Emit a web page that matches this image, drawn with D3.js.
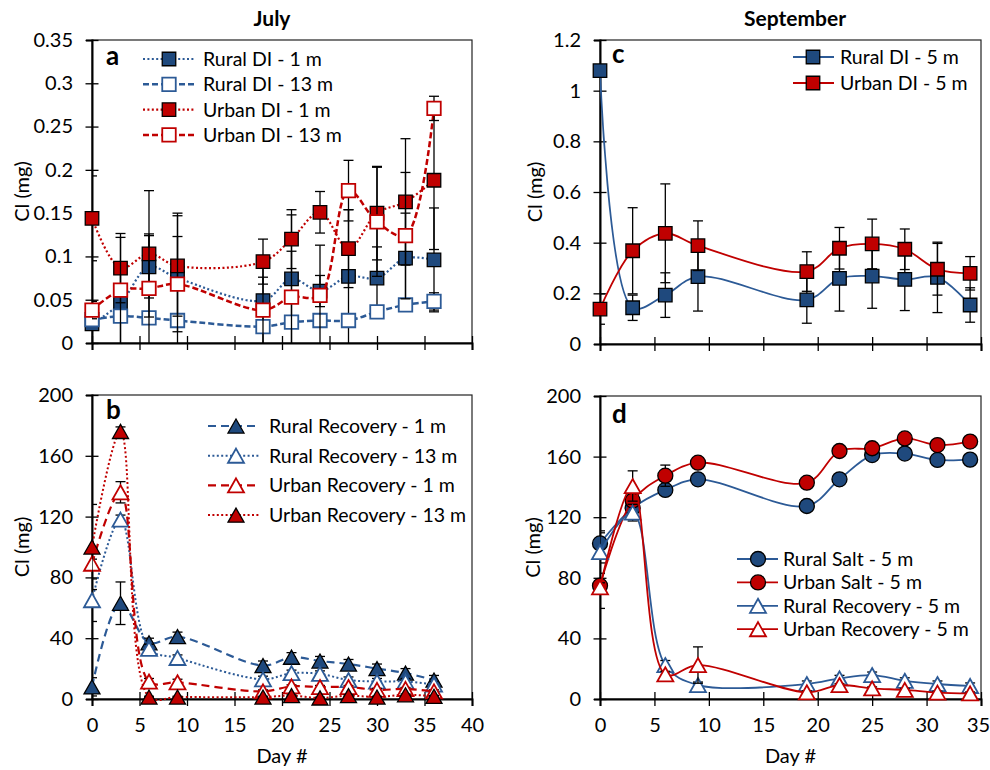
<!DOCTYPE html>
<html>
<head>
<meta charset="utf-8">
<script src="https://cdn.jsdelivr.net/npm/d3@7"></script>
<style>
  body { margin: 0; background: #fff; }
  svg { font-family: Lato, "Open Sans", sans-serif; }
</style>
</head>
<body>
<svg id="chart" width="990" height="770"></svg>
<script>
// ---------------- DATA ----------------
const daysJuly = [0, 3, 6, 9, 18, 21, 24, 27, 30, 33, 36];
const daysSept = [0, 3, 6, 9, 19, 22, 25, 28, 31, 34];

// Panel a (July, DI)
const ruralDI1m     = [0.022, 0.046, 0.088, 0.075, 0.049, 0.074, 0.060, 0.077, 0.075, 0.098, 0.096];
const ruralDI1mErr  = [0.005, 0.046, 0.036, 0.075, 0.049, 0.074, 0.018, 0.077, 0.036, 0.052, 0.060];
const ruralDI13m    = [0.027, 0.031, 0.029, 0.026, 0.019, 0.024, 0.026, 0.026, 0.036, 0.044, 0.048];
const ruralDI13mErr = [0.004, 0.004, 0.004, 0.004, 0.004, 0.004, 0.004, 0.004, 0.004, 0.004, 0.010];
const urbanDI1m     = [0.144, 0.0865, 0.103, 0.089, 0.094, 0.120, 0.151, 0.109, 0.150, 0.163, 0.188];
const urbanDI1mErr  = [0.049, 0.040, 0.073, 0.058, 0.026, 0.034, 0.024, 0.045, 0.054, 0.073, 0.080];
const urbanDI13m    = [0.038, 0.061, 0.063, 0.068, 0.038, 0.053, 0.055, 0.176, 0.140, 0.124, 0.271];
const urbanDI13mErr = [0.010, 0.061, 0.063, 0.055, 0.038, 0.053, 0.058, 0.035, 0.063, 0.073, 0.014];

// Panel b (July, Recovery)
const ruralRec1m     = [8, 63, 37, 41, 22, 27.5, 25, 23, 20, 17, 12.5];
const ruralRec1mErr  = [6, 14, 3, 3, 3, 3, 3, 3, 3, 3, 3];
const ruralRec13m    = [65, 118, 33, 27, 13, 17, 16.5, 12.5, 11.5, 11.5, 9.5];
const ruralRec13mErr = [14, 3, 3, 2, 2, 2, 2, 2, 2, 2, 2];
const urbanRec1m     = [89, 136, 11.5, 11, 5, 8.3, 7.9, 7.9, 6, 6.6, 5];
const urbanRec1mErr  = [3, 7, 2, 2, 1, 1, 1, 1, 1, 1, 1];
const urbanRec13m    = [100, 176, 1.3, 1.3, 1.3, 2.2, 0.7, 2.2, 1.3, 2.8, 1.8];
const urbanRec13mErr = [28, 3, 0.5, 0.5, 0.5, 0.5, 0.5, 0.5, 0.5, 0.5, 0.5];

// Panel c (September, DI)
const ruralDI5m    = [1.079, 0.143, 0.193, 0.266, 0.174, 0.259, 0.268, 0.255, 0.263, 0.154];
const ruralDI5mErr = [0.02, 0.05, 0.088, 0.136, 0.092, 0.129, 0.127, 0.123, 0.139, 0.068];
const urbanDI5m    = [0.138, 0.368, 0.437, 0.388, 0.286, 0.378, 0.395, 0.374, 0.295, 0.279];
const urbanDI5mErr = [0.06, 0.17, 0.195, 0.098, 0.078, 0.082, 0.098, 0.08, 0.102, 0.066];

// Panel d (September, Salt + Recovery)
const ruralSalt5m    = [102.7, 126, 138, 145, 127.4, 145, 161, 162, 157.8, 158];
const ruralSalt5mErr = [7, 4, 3, 2, 3, 3, 3, 3, 3, 3];
const urbanSalt5m    = [74.8, 131, 147.4, 156, 142.8, 163.7, 165.5, 172, 167.6, 169.9];
const urbanSalt5mErr = [15, 4, 7, 3, 3, 3, 3, 3, 3, 3];
const ruralRec5m     = [97, 123, 22.4, 9.2, 9.9, 13.6, 15.8, 12, 9.9, 8.6];
const ruralRec5mErr  = [14, 5.5, 3, 2, 2, 2, 2, 2, 2, 2];
const urbanRec5m     = [73.7, 140.6, 16.3, 22.4, 4.4, 9.2, 7, 6, 4.2, 3.7];
const urbanRec5mErr  = [3, 10, 2, 12, 1, 1, 1, 1, 1, 1];

// Tick labels
const xTicksJuly = [0, 5, 10, 15, 20, 25, 30, 35, 40];
const xTicksSept = [0, 5, 10, 15, 20, 25, 30, 35];
const yTicksA = ["0", "0.05", "0.1", "0.15", "0.2", "0.25", "0.3", "0.35"];
const yTicksB = ["0", "40", "80", "120", "160", "200"];
const yTicksC = ["0", "0.2", "0.4", "0.6", "0.8", "1", "1.2"];
const yTicksD = ["0", "40", "80", "120", "160", "200"];

// Legend labels
const legendA = ["Rural DI - 1 m", "Rural DI - 13 m", "Urban DI - 1 m", "Urban DI - 13 m"];
const legendB = ["Rural Recovery - 1 m", "Rural Recovery - 13 m", "Urban Recovery - 1 m", "Urban Recovery - 13 m"];
const legendC = ["Rural DI - 5 m", "Urban DI - 5 m"];
const legendD = ["Rural Salt - 5 m", "Urban Salt - 5 m", "Rural Recovery - 5 m", "Urban Recovery - 5 m"];

const titles = ["July", "September"];

// ---------------- STYLE ----------------
const NAVY_FILL = "#1F497D";
const NAVY_LINE = "#2C5A96";
const RED = "#C00000";
const FONT = 20;
const LEGEND_FONT = 19.5;

const svg = d3.select("#chart");

const triangle = {
  draw(ctx, size) {
    const s = Math.sqrt(size);
    const h = s * 0.88;
    ctx.moveTo(0, -h / 2);
    ctx.lineTo(s / 2, h / 2);
    ctx.lineTo(-s / 2, h / 2);
    ctx.closePath();
  }
};
const markerShapes = {
  square: { type: d3.symbolSquare, size: 13.5 * 13.5 },
  triangle: { type: triangle, size: 16 * 16 },
  circle: { type: d3.symbolCircle, size: Math.PI * 7.5 * 7.5 }
};
const dashes = {
  dotA: "2,2.4",
  dashA: "6,3",
  dashB: "8,5",
  dotB: "2,2.4",
  solid: null
};

function drawMarker(g, x, y, s) {
  const m = markerShapes[s.marker];
  g.append("path")
    .attr("d", d3.symbol().type(m.type).size(m.size)())
    .attr("transform", `translate(${x},${y})`)
    .attr("fill", s.filled ? s.fill : "#fff")
    .attr("stroke", s.filled ? "#000" : s.color)
    .attr("stroke-width", s.filled ? 1.3 : 1.8);
}

let clipId = 0;
function panel(o) {
  const x = d3.scaleLinear().domain(o.xDomain).range([o.x0, o.x1]);
  const y = d3.scaleLinear().domain(o.yDomain).range([o.yBot, o.yTop]);
  const g = svg.append("g");

  const cid = "clip" + (clipId++);
  svg.append("clipPath").attr("id", cid)
    .append("rect").attr("x", o.x0).attr("y", o.yTop - 2)
    .attr("width", o.x1 - o.x0).attr("height", o.yBot - o.yTop + 4);

  // frame
  g.append("rect").attr("x", o.x0).attr("y", o.yTop)
    .attr("width", o.x1 - o.x0).attr("height", o.yBot - o.yTop)
    .attr("fill", "none").attr("stroke", "#222").attr("stroke-width", 1.2);

  // y axis
  const yAxis = d3.axisLeft(y).tickValues(o.yTicks.map(Number))
    .tickFormat((d, i) => o.yTicks[i]).tickSize(6).tickPadding(13);
  const ya = g.append("g").attr("transform", `translate(${o.x0},0)`).call(yAxis);
  ya.select(".domain").attr("stroke", "#000").attr("stroke-width", 2);
  ya.selectAll(".tick line").attr("x1", -6.5).attr("x2", 6.5).attr("stroke", "#000").attr("stroke-width", 1.3);
  ya.selectAll(".tick text").attr("font-size", FONT).attr("font-family", "Lato").attr("fill", "#000");

  // x axis
  const xAxis = d3.axisBottom(x).tickValues(o.xTicks)
    .tickFormat(o.xLabels ? d3.format("d") : () => "").tickSize(7).tickPadding(12);
  const xa = g.append("g").attr("transform", `translate(0,${o.yBot})`).call(xAxis);
  xa.select(".domain").attr("stroke", "#000").attr("stroke-width", 2);
  xa.selectAll(".tick line").attr("y1", -7).attr("y2", 7).attr("stroke", "#000").attr("stroke-width", 1.3);
  xa.selectAll(".tick text").attr("font-size", FONT).attr("font-family", "Lato").attr("fill", "#000");
  if (o.lastLabelShift) {
    xa.selectAll(".tick text").filter((d, i, n) => i === n.length - 1).attr("dx", o.lastLabelShift);
  }

  const line = d3.line().x(d => x(d.day)).y(d => y(d.v)).curve(d3.curveCatmullRom.alpha(0.5));

  o.series.forEach(s => {
    const pts = s.days.map((d, i) => ({ day: d, v: s.values[i], e: s.err[i] }));
    g.append("path").datum(pts).attr("d", line)
      .attr("fill", "none").attr("stroke", s.color).attr("stroke-width", s.width)
      .attr("stroke-dasharray", dashes[s.dash]).attr("clip-path", `url(#${cid})`);
    const eb = g.append("g").attr("clip-path", `url(#${cid})`)
      .attr("stroke", "#000").attr("stroke-width", 1.3);
    pts.forEach(p => {
      const cx = x(p.day), yt = y(p.v + p.e), yb = y(Math.max(o.yDomain[0], p.v - p.e));
      eb.append("line").attr("x1", cx).attr("x2", cx).attr("y1", yt).attr("y2", yb);
      eb.append("line").attr("x1", cx - 5).attr("x2", cx + 5).attr("y1", yt).attr("y2", yt);
      if (p.v - p.e > o.yDomain[0])
        eb.append("line").attr("x1", cx - 5).attr("x2", cx + 5).attr("y1", yb).attr("y2", yb);
    });
    pts.forEach(p => drawMarker(g, x(p.day), y(p.v), s));
  });

  // legend
  const L = o.legend;
  o.series.forEach((s, i) => {
    const ly = L.y + i * L.dy;
    g.append("line").attr("x1", L.lx0).attr("x2", L.lx1).attr("y1", ly).attr("y2", ly)
      .attr("stroke", s.color).attr("stroke-width", s.width).attr("stroke-dasharray", dashes[s.dash]);
    drawMarker(g, L.mx, ly, s);
    g.append("text").attr("x", L.tx).attr("y", ly).attr("dy", "0.36em")
      .attr("font-size", LEGEND_FONT).attr("fill", "#000").text(o.legendLabels[i]);
  });

  // panel letter
  g.append("text").attr("x", o.letterX).attr("y", o.letterY)
    .attr("font-size", 26).attr("font-weight", "bold").attr("fill", "#000").text(o.letter);

  // y title
  g.append("text").attr("transform", `translate(${o.yTitleX},${(o.yTop + o.yBot) / 2}) rotate(-90)`)
    .attr("text-anchor", "middle").attr("dy", "0.35em")
    .attr("font-size", FONT).attr("fill", "#000").text("Cl (mg)");

  if (o.xLabels) {
    g.append("text").attr("x", (o.x0 + o.x1) / 2).attr("y", 763)
      .attr("text-anchor", "middle").attr("font-size", FONT).attr("fill", "#000").text("Day #");
  }
}

// ---------------- PANELS ----------------
panel({
  x0: 92, x1: 472, yTop: 40, yBot: 343, xDomain: [0, 40], yDomain: [0, 0.35],
  xTicks: xTicksJuly, yTicks: yTicksA, xLabels: false,
  letter: "a", letterX: 106, letterY: 65, yTitleX: 22,
  legendLabels: legendA,
  legend: { y: 59, dy: 25.3, lx0: 143, lx1: 195, mx: 169, tx: 203 },
  series: [
    { days: daysJuly, values: ruralDI1m, err: ruralDI1mErr, color: NAVY_LINE, fill: NAVY_FILL, filled: true, marker: "square", dash: "dotA", width: 2.2 },
    { days: daysJuly, values: ruralDI13m, err: ruralDI13mErr, color: NAVY_LINE, fill: NAVY_FILL, filled: false, marker: "square", dash: "dashA", width: 2.5 },
    { days: daysJuly, values: urbanDI1m, err: urbanDI1mErr, color: RED, fill: RED, filled: true, marker: "square", dash: "dotA", width: 2.2 },
    { days: daysJuly, values: urbanDI13m, err: urbanDI13mErr, color: RED, fill: RED, filled: false, marker: "square", dash: "dashA", width: 2.5 }
  ]
});

panel({
  x0: 92, x1: 472, yTop: 395, yBot: 699, xDomain: [0, 40], yDomain: [0, 200],
  xTicks: xTicksJuly, yTicks: yTicksB, xLabels: true,
  letter: "b", letterX: 106, letterY: 419, yTitleX: 22,
  legendLabels: legendB,
  legend: { y: 426, dy: 29.7, lx0: 208, lx1: 260, mx: 236, tx: 269 },
  series: [
    { days: daysJuly, values: ruralRec1m, err: ruralRec1mErr, color: NAVY_LINE, fill: NAVY_FILL, filled: true, marker: "triangle", dash: "dashB", width: 2.2 },
    { days: daysJuly, values: ruralRec13m, err: ruralRec13mErr, color: NAVY_LINE, fill: NAVY_FILL, filled: false, marker: "triangle", dash: "dotB", width: 2 },
    { days: daysJuly, values: urbanRec1m, err: urbanRec1mErr, color: RED, fill: RED, filled: false, marker: "triangle", dash: "dashB", width: 2.2 },
    { days: daysJuly, values: urbanRec13m, err: urbanRec13mErr, color: RED, fill: RED, filled: true, marker: "triangle", dash: "dotB", width: 2 }
  ]
});

panel({
  x0: 600, x1: 981, yTop: 40, yBot: 344, xDomain: [0, 35], yDomain: [0, 1.2],
  xTicks: xTicksSept, yTicks: yTicksC, xLabels: false,
  letter: "c", letterX: 612, letterY: 63, yTitleX: 535,
  legendLabels: legendC,
  legend: { y: 57, dy: 26, lx0: 793, lx1: 834, mx: 813, tx: 840 },
  series: [
    { days: daysSept, values: ruralDI5m, err: ruralDI5mErr, color: NAVY_LINE, fill: NAVY_FILL, filled: true, marker: "square", dash: "solid", width: 1.8 },
    { days: daysSept, values: urbanDI5m, err: urbanDI5mErr, color: RED, fill: RED, filled: true, marker: "square", dash: "solid", width: 1.8 }
  ]
});

panel({
  x0: 600, x1: 981, yTop: 396, yBot: 699, xDomain: [0, 35], yDomain: [0, 200],
  xTicks: xTicksSept, yTicks: yTicksD, xLabels: true, lastLabelShift: -3,
  letter: "d", letterX: 612, letterY: 423, yTitleX: 533,
  legendLabels: legendD,
  legend: { y: 559, dy: 23.4, lx0: 737, lx1: 778, mx: 758, tx: 783 },
  series: [
    { days: daysSept, values: ruralSalt5m, err: ruralSalt5mErr, color: NAVY_LINE, fill: NAVY_FILL, filled: true, marker: "circle", dash: "solid", width: 1.8 },
    { days: daysSept, values: urbanSalt5m, err: urbanSalt5mErr, color: RED, fill: RED, filled: true, marker: "circle", dash: "solid", width: 1.8 },
    { days: daysSept, values: ruralRec5m, err: ruralRec5mErr, color: NAVY_LINE, fill: NAVY_FILL, filled: false, marker: "triangle", dash: "solid", width: 1.8 },
    { days: daysSept, values: urbanRec5m, err: urbanRec5mErr, color: RED, fill: RED, filled: false, marker: "triangle", dash: "solid", width: 1.8 }
  ]
});

// titles
svg.append("text").attr("x", 272).attr("y", 26).attr("text-anchor", "middle")
  .attr("font-size", 21).attr("font-weight", "bold").attr("fill", "#000").text(titles[0]);
svg.append("text").attr("x", 795).attr("y", 26).attr("text-anchor", "middle")
  .attr("font-size", 21).attr("font-weight", "bold").attr("fill", "#000").text(titles[1]);
</script>
</body>
</html>
